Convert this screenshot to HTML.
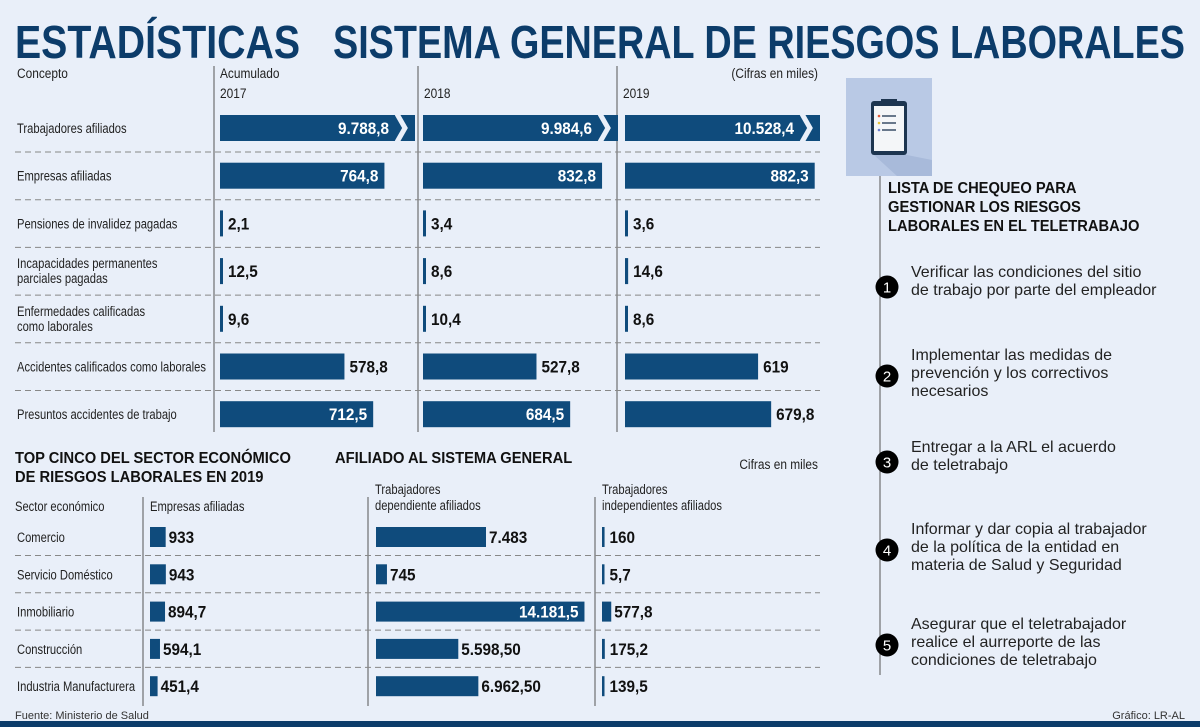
<!DOCTYPE html>
<html><head><meta charset="utf-8"><style>
body{margin:0;background:#e9eff9;}
svg{display:block;}
text{font-family:"Liberation Sans",sans-serif;}
.t{fill:#222;font-size:14px;}
.b{font-weight:bold;}
</style></head><body>
<svg id="chart" width="1200" height="727" viewBox="0 0 1200 727" xmlns="http://www.w3.org/2000/svg">
<rect width="1200" height="727" fill="#e9eff9"/>
<text x="15" y="58" font-size="46" font-weight="bold" fill="#0c3c6a" textLength="285" lengthAdjust="spacingAndGlyphs">ESTADÍSTICAS</text>
<text x="333" y="58" font-size="46" font-weight="bold" fill="#0c3c6a" textLength="852" lengthAdjust="spacingAndGlyphs">SISTEMA GENERAL DE RIESGOS LABORALES</text>
<g id="topTable"></g>
<g id="bottom"></g>
<g id="right"></g>
<text x="15" y="719" font-size="11" fill="#333">Fuente: Ministerio de Salud</text>
<text x="1185" y="719" font-size="11" fill="#333" text-anchor="end">Gráfico: LR-AL</text>
<rect x="0" y="721" width="1200" height="6" fill="#0c3c6a"/>
</svg>
<script>
const topConcepts=[["Trabajadores afiliados"],["Empresas afiliadas"],["Pensiones de invalidez pagadas"],["Incapacidades permanentes","parciales pagadas"],["Enfermedades calificadas","como laborales"],["Accidentes calificados como laborales"],["Presuntos accidentes de trabajo"]];
const topYears=[["Acumulado","2017"],["2018"],["2019"]];
const v2017=[9788.8,764.8,2.1,12.5,9.6,578.8,712.5];
const v2018=[9984.6,832.8,3.4,8.6,10.4,527.8,684.5];
const v2019=[10528.4,882.3,3.6,14.6,8.6,619,679.8];
const topLabels=[["9.788,8","764,8","2,1","12,5","9,6","578,8","712,5"],["9.984,6","832,8","3,4","8,6","10,4","527,8","684,5"],["10.528,4","882,3","3,6","14,6","8,6","619","679,8"]];
const sectors=["Comercio","Servicio Doméstico","Inmobiliario","Construcción","Industria Manufacturera"];
const empresas=[933,943,894.7,594.1,451.4];
const dependientes=[7483,745,14181.5,5598.5,6962.5];
const independientes=[160,5.7,577.8,175.2,139.5];
const empLabels=["933","943","894,7","594,1","451,4"];
const depLabels=["7.483","745","14.181,5","5.598,50","6.962,50"];
const indLabels=["160","5,7","577,8","175,2","139,5"];
const checklist=[["Verificar las condiciones del sitio","de trabajo por parte del empleador"],["Implementar las medidas de","prevención y los correctivos","necesarios"],["Entregar a la ARL el acuerdo","de teletrabajo"],["Informar y dar copia al trabajador","de la política de la entidad en","materia de Salud y Seguridad"],["Asegurar que el teletrabajador","realice el aurreporte de las","condiciones de teletrabajo"]];

const NS="http://www.w3.org/2000/svg";
function mk(parent,tag,attrs,txt){const el=document.createElementNS(NS,tag);for(const k in attrs)el.setAttribute(k,attrs[k]);if(txt!==undefined)el.textContent=txt;parent.appendChild(el);return el;}
// condensed text via horizontal scale
function tx(parent,x,y,s,attrs,sx){const a=Object.assign({x:0,y:0,transform:`translate(${x},${y}) scale(${sx},1)`},attrs);return mk(parent,'text',a,s);}
const BAR="#0f4b7c";
// TOP TABLE
const tg=document.getElementById('topTable');
const colX=[220,423,625],colEnd=[415,618,820];
const rowY=i=>128+i*47.7;
const xTop=v=>Math.max(3,v*0.215);
let e=tx(tg,17,78,"Concepto",{class:'t'},0.85);


e=tx(tg,818,78,"(Cifras en miles)",{class:'t',"text-anchor":"end"},0.85);


[214,418,617].forEach((x,k)=>{const ln=mk(tg,'line',{x1:x,x2:x,y1:66,y2:432,stroke:"#555","stroke-width":1});


topYears[k].forEach((s,j)=>{const t=tx(tg,x+6,(topYears[k].length==2?78:98)+j*20,s,{class:'t',"font-size":15},0.85);

});});
for(let i=0;i<6;i++){const ln=mk(tg,'line',{x1:15,x2:820,y1:rowY(i)+24,y2:rowY(i)+24,stroke:"#888","stroke-dasharray":"6,4"});

}
topConcepts.forEach((c,i)=>{c.forEach((s,j)=>{const t=tx(tg,17,rowY(i)+5+(c.length==2?(j*15-8):0),s,{class:'t'},0.8);

});});
[v2017,v2018,v2019].forEach((arr,k)=>{arr.forEach((v,i)=>{const y=rowY(i);let w;
 if(i===0){w=colEnd[k]-colX[k];}else w=xTop(v);
 const r=mk(tg,'rect',{x:colX[k],y:y-13,width:w,height:26,fill:BAR});
 
 
 if(i===0){mk(tg,'polyline',{points:`${colEnd[k]-18},${y-14} ${colEnd[k]-10},${y} ${colEnd[k]-18},${y+14}`,fill:"none",stroke:"#e9eff9","stroke-width":5});}
 const inside=w>146.5;
 const t=tx(tg,inside?colX[k]+w-(i===0?26:6):colX[k]+w+5,y+6,topLabels[k][i],{"font-size":17,class:'b',"text-anchor":inside?"end":"start",fill:inside?"#fff":"#111"},0.9);
 
 
});});
// BOTTOM
const bot=document.getElementById('bottom');
[["TOP CINCO DEL SECTOR ECONÓMICO",15,463],["DE RIESGOS LABORALES EN 2019",15,482],["AFILIADO AL SISTEMA GENERAL",335,463]].forEach(a=>{const t=tx(bot,a[1],a[2],a[0],{"font-size":16,class:'b',fill:"#111"},0.92);

});
e=tx(bot,818,469,"Cifras en miles",{class:'t',"text-anchor":"end"},0.85);


[[["Sector económico"],15],[["Empresas afiliadas"],150],[["Trabajadores","dependiente afiliados"],375],[["Trabajadores","independientes afiliados"],602]].forEach(h=>{h[0].forEach((s,j)=>{const t=tx(bot,h[1],(h[0].length==2?494:511)+j*16,s,{class:'t',"font-size":15},0.8);

});});
[143,368,595].forEach(x=>{const ln=mk(bot,'line',{x1:x,x2:x,y1:497,y2:706,stroke:"#555"});

});
const bRow=i=>537+i*37.3;
for(let i=0;i<4;i++){const ln=mk(bot,'line',{x1:15,x2:820,y1:bRow(i)+18.5,y2:bRow(i)+18.5,stroke:"#888","stroke-dasharray":"6,4"});

}
sectors.forEach((s,i)=>{const t=tx(bot,17,bRow(i)+5,s,{class:'t'},0.8);

});
const groups=[[empresas,empLabels,150,0.0168,'empresas'],[dependientes,depLabels,376,0.0147,'dependientes'],[independientes,indLabels,602,0.016,'independientes']];
groups.forEach(g=>{g[0].forEach((v,i)=>{const y=bRow(i);const w=Math.max(2.5,v*g[3]);
 const r=mk(bot,'rect',{x:g[2],y:y-10,width:w,height:20,fill:BAR});
 
 
 const inside=w>150;
 const t=tx(bot,inside?g[2]+w-6:g[2]+w+(w>6?3:5),y+6,g[1][i],{"font-size":17,class:'b',"text-anchor":inside?"end":"start",fill:inside?"#fff":"#111"},0.9);
 
 
});});
// RIGHT PANEL
const rp=document.getElementById('right');
e=mk(rp,'rect',{x:846,y:78,width:86,height:98,fill:"#b9c9e5"});


mk(rp,'polygon',{points:"874,155 907,155 932,160 932,176 897,176",fill:"#a8bada"});
mk(rp,'rect',{x:871,y:101,width:36,height:54,rx:3,fill:"#1d3550"});
mk(rp,'rect',{x:874,y:106,width:30,height:45,fill:"#f4f6f8"});
mk(rp,'rect',{x:881,y:99,width:16,height:6,fill:"#1d3550"});
[[116,"#e05a3a"],[123,"#e8c33a"],[130,"#6a7fd0"]].forEach(a=>{mk(rp,'circle',{cx:879,cy:a[0],r:1.3,fill:a[1]});mk(rp,'line',{x1:882,x2:896,y1:a[0],y2:a[0],stroke:"#1d3550","stroke-width":1.3});});
e=mk(rp,'line',{x1:880,x2:880,y1:176,y2:675,stroke:"#555"});


["LISTA DE CHEQUEO PARA","GESTIONAR LOS RIESGOS","LABORALES EN EL TELETRABAJO"].forEach((s,j)=>{const t=tx(rp,888,193+j*19,s,{"font-size":16,class:'b',fill:"#111"},0.92);

});
const cy=[287,376,462,550,645];
checklist.forEach((lines,i)=>{const c=mk(rp,'circle',{cx:887,cy:cy[i],r:11.5,fill:"#000"});
 
 
 mk(rp,'text',{x:887,y:cy[i]+5.5,"font-size":15,fill:"#fff","text-anchor":"middle"},String(i+1));
 const y0=cy[i]-(lines.length-1)*9;
 lines.forEach((s,j)=>{const t=mk(rp,'text',{x:911,y:y0+j*18-3+(lines.length==2?2:5),"font-size":16,fill:"#222"},s);
 
 });
});
</script>
</body></html>
